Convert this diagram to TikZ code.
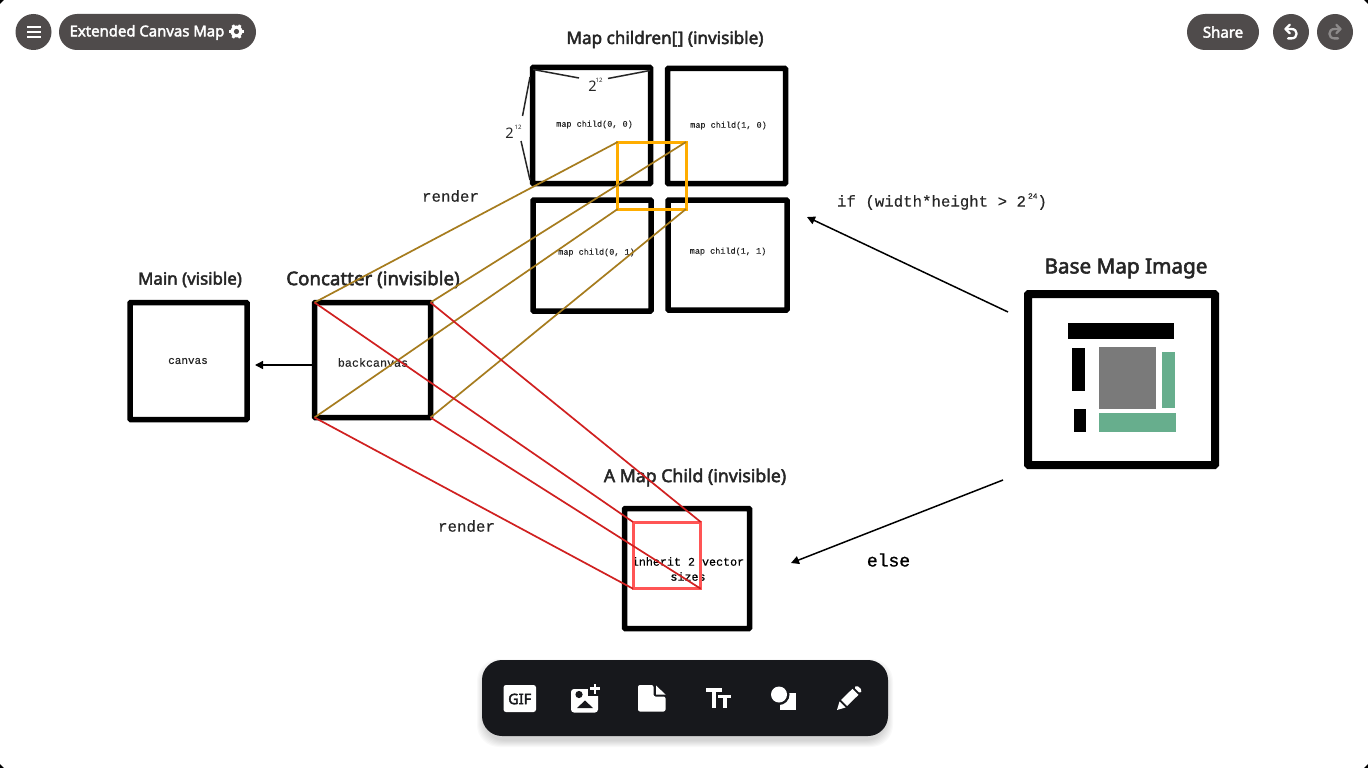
\documentclass[tikz,border=0pt]{standalone}
\usepackage{fontspec}
\setmainfont{Noto Sans}
\newfontfamily\headf[FakeBold=2.6]{Noto Sans}
\newfontfamily\monof[FakeBold=0.25]{Liberation Mono}
\newfontfamily\monob[FakeBold=1.1]{Liberation Mono}
\newcommand{\hd}[2]{{\headf\fontsize{#1}{#1}\selectfont #2}}
\newcommand{\mo}[2]{{\monof\fontsize{#1}{#1}\selectfont #2}}
\definecolor{pill}{HTML}{4F4B4B}
\definecolor{bar}{HTML}{17181C}
\definecolor{brownl}{HTML}{A67C1E}
\definecolor{redl}{HTML}{D02020}
\definecolor{orangeb}{HTML}{FFAD00}
\definecolor{redb}{HTML}{FF5555}
\definecolor{greenb}{HTML}{67AE8D}
\usetikzlibrary{arrows.meta}
\tikzset{
 box/.style={draw=black,line width=5.5pt,inner sep=0pt,outer sep=0pt,rounded corners=0.8pt},
 btn/.style={circle,fill=pill,minimum size=36pt,inner sep=0pt},
 pillb/.style={fill=pill,rounded corners=18pt},
 brownline/.style={draw=brownl,line width=1.7pt},
 redline/.style={draw=redl,line width=1.7pt},
 arrowl/.style={draw=black,line width=1.5pt,-{Triangle[length=8pt,width=8pt]}},
 dimline/.style={draw=black!85,line width=1.5pt},
 lbl/.style={inner sep=0pt,outer sep=0pt,text=black!85,align=center},
 icon/.style={fill=white,draw=none},
 cut/.style={fill=bar,draw=none},
 arrowicon/.style={line width=2.3pt,line cap=round,line join=round},
}
\begin{document}
\begin{tikzpicture}[x=1pt,y=-1pt]
\useasboundingbox (0,0) rectangle (1368,768);
\fill[white] (0,0) rectangle (1368,768);
% window corners
\fill[black] (0,0) -- (4,0) -- (0,4) -- cycle;
\fill[black] (1368,0) -- (1364,0) -- (1368,4) -- cycle;
\fill[black] (0,768) -- (4,768) -- (0,764) -- cycle;
\fill[black] (1368,768) -- (1364,768) -- (1368,764) -- cycle;
% top-left controls
\node[btn] (menu) at (33.5,32) {};
\foreach \yy in {27,32,37}{\draw[white,line width=1.2pt] (27,\yy)--(40.5,\yy);}
\fill[pillb] (59,14) rectangle (256,50);
\node[lbl,text=white] (title) at (147,32.5) {\hd{14.9}{Extended Canvas Map}};
\foreach \a in {0,60,...,300}{\draw[white,line width=2.8pt] (236.5,31.5)--++(\a:7.4);}
\fill[white] (236.5,31.5) circle (6);
\fill[pill] (236.5,31.5) circle (2.6);
% top-right controls
\fill[pillb] (1187,14) rectangle (1259,50);
\node[lbl,text=white] (share) at (1223,32) {\hd{15}{Share}};
\node[btn] (undo) at (1291,32) {};
\draw[white,arrowicon] (1285.5,29) -- (1291.5,29) .. controls (1298.3,29) and (1298.3,38.4) .. (1291.5,38.4) -- (1288,38.4);
\draw[white,arrowicon] (1289.7,24.8) -- (1285.5,29) -- (1289.7,33.2);
\node[btn] (redo) at (1335,32) {};
\draw[white!35!pill,arrowicon] (1340.5,29) -- (1334.5,29) .. controls (1327.7,29) and (1327.7,38.4) .. (1334.5,38.4) -- (1338,38.4);
\draw[white!35!pill,arrowicon] (1336.3,24.8) -- (1340.5,29) -- (1336.3,33.2);
% headings
\node[lbl] (h1) at (665,39.5) {\hd{17.1}{Map children[\kern0.6pt] (invisible)}};
\node[lbl] (h2) at (190,279.5) {\hd{16.9}{Main (visible)}};
\node[lbl] (h3) at (373,279.5) {\hd{18.7}{Concatter (invisible)}};
\node[lbl] (h4) at (695,477.5) {\hd{17.7}{A Map Child (invisible)}};
\node[lbl] (h5) at (1126,268.5) {\hd{20.7}{Base Map Image}};
% boxes
\node[box,minimum width=117pt,minimum height=117pt] (main) at (188.5,361) {};
\node[box,minimum width=116pt,minimum height=115pt] (conc) at (372.5,360) {};
\node[box,minimum width=118pt,minimum height=116pt] (m00) at (591.5,125.5) {};
\node[box,minimum width=118pt,minimum height=115pt] (m10) at (726.5,126) {};
\node[box,minimum width=118pt,minimum height=111pt] (m01) at (592,255.5) {};
\node[box,minimum width=119pt,minimum height=110pt] (m11) at (727.5,255) {};
\node[box,minimum width=125pt,minimum height=120pt] (child) at (687,568.5) {};
\node[box,line width=8pt,minimum width=187pt,minimum height=171pt] (base) at (1121.5,379.5) {};
% box labels
\node[lbl] (lcanvas) at (188,361) {\mo{11}{canvas}};
\node[lbl] (lback) at (373,362.5) {\mo{11.7}{backcanvas}};
\node[lbl] (l00) at (594.5,124.5) {\mo{8.5}{map child(0, 0)}};
\node[lbl] (l10) at (728.5,125.5) {\mo{8.5}{map child(1, 0)}};
\node[lbl] (l01) at (596.5,252.5) {\mo{8.5}{map child(0, 1)}};
\node[lbl] (l11) at (728,251.5) {\mo{8.5}{map child(1, 1)}};
\node[lbl,text=black,font=\monof\fontsize{11.7}{15}\selectfont] (lchild) at (688,569) {inherit 2 vector\\sizes};
% base map image contents
\fill[black] (1067.7,323) rectangle (1174.3,339.3);
\fill[black] (1072,348) rectangle (1085.3,391);
\fill[black] (1073.5,409) rectangle (1086,432);
\fill[black!52] (1099,346.5) rectangle (1156,408.5);
\fill[greenb] (1162,352) rectangle (1175,408);
\fill[greenb] (1099,413) rectangle (1175.5,432);
% highlight rectangles
\node[draw=orangeb,line width=3pt,inner sep=0pt,outer sep=0pt,minimum width=68.3pt,minimum height=67pt] (orect) at (651.85,175.5) {};
\node[draw=redb,line width=3pt,inner sep=0pt,outer sep=0pt,minimum width=67.7pt,minimum height=66.7pt] (rrect) at (666.85,555.35) {};
% projection lines
\draw[brownline] (conc.north west) -- (orect.north west);
\draw[brownline] (conc.north east) -- (orect.north east);
\draw[brownline] (conc.south west) -- (orect.south west);
\draw[brownline] (conc.south east) -- (orect.south east);
\draw[redline] (conc.north west) -- (rrect.north west);
\draw[redline] (conc.north east) -- (rrect.north east);
\draw[redline] (conc.south west) -- (rrect.south west);
\draw[redline] (conc.south east) -- (rrect.south east);
% arrows
\coordinate (a1e) at (255,365);
\coordinate (a1s) at (312,365);
\draw[arrowl] (a1s) -- (a1e);
\coordinate (a2s) at (1008,312);
\coordinate (a2e) at (807,217);
\draw[arrowl] (a2s) -- (a2e);
\coordinate (a3s) at (1003,480);
\coordinate (a3e) at (791,563);
\draw[arrowl] (a3s) -- (a3e);
% dimensions
\coordinate (d1) at (533,69.5);
\coordinate (d2) at (579,78);
\coordinate (d3) at (608,78.5);
\coordinate (d4) at (650,70.5);
\coordinate (d5) at (530,77);
\coordinate (d6) at (522.5,116);
\coordinate (d7) at (521,141);
\coordinate (d8) at (530,180);
\draw[dimline] (d1)--(d2);
\draw[dimline] (d3)--(d4);
\draw[dimline] (d5)--(d6);
\draw[dimline] (d7)--(d8);
\node[lbl] (dt) at (592.5,86) {\fontsize{14.5}{16}\selectfont 2};
\node[lbl] (dts) at (599,80) {\fontsize{6}{6}\selectfont 12};
\node[lbl] (dl) at (509.5,133) {\fontsize{14.5}{16}\selectfont 2};
\node[lbl] (dls) at (518,127) {\fontsize{6}{6}\selectfont 12};
% free labels
\node[lbl] (r1) at (450.5,196) {\mo{15.8}{render}};
\node[lbl] (r2) at (466.5,526) {\mo{15.8}{render}};
\node[lbl,text=black] (els) at (888.5,560) {{\monob\fontsize{18}{18}\selectfont else}};
\node[lbl,anchor=west] (cond) at (837,202.5) {\mo{15.75}{if (width*height > 2}};
\node[lbl,anchor=west] (conds) at (1028,196) {\mo{8}{24}};
\node[lbl,anchor=west] (condp) at (1037.5,202.5) {\mo{15.75}{)}};
% toolbar
\foreach \k in {1,...,7}{\fill[black,opacity=0.025,rounded corners=22pt] (484-\k,666-\k) rectangle (886+\k,740+\k);}
\fill[bar,rounded corners=20pt] (482,660) rectangle (888,736);
% GIF
\fill[icon,rounded corners=2.5pt] (503.5,685) rectangle (536,712);
\node[lbl,text=bar] (gif) at (519.7,699) {\hd{14.5}{GIF}};
% image
\fill[icon,rounded corners=3pt] (571,689) rectangle (598,712.5);
\fill[cut] (588,684) rectangle (600,696);
\fill[icon] (593.5,683.5) rectangle (596,693.5);
\fill[icon] (590,687.3) rectangle (600,689.8);
\fill[cut] (579,694.5) circle (3.6);
\fill[cut] (577,708) -- (585,700.5) -- (593,708) -- cycle;
% file
\fill[icon,rounded corners=2pt] (638,685) -- (653.5,685) -- (653.5,696.5) -- (665.5,696.5) -- (665.5,711.5) -- (638,711.5) -- cycle;
\fill[icon] (656,685.5) -- (665.5,694.5) -- (656,694.5) -- cycle;
% Tt
\fill[icon] (705.7,688) rectangle (722,692);
\fill[icon] (711.7,688) rectangle (716,708);
\fill[icon] (718,694.5) rectangle (731,698);
\fill[icon] (722.5,694.5) rectangle (726.5,708);
% shapes
\fill[icon] (780,693) rectangle (796,710);
\fill[cut] (779,694.5) circle (10.5);
\fill[icon] (779,694.5) circle (8);
% pencil
\fill[icon] (837,710) -- (839.5,701.5) -- (845.5,707.5) -- cycle;
\fill[icon] (841,700) -- (852.5,688.8) -- (858.5,694.8) -- (847,706) -- cycle;
\fill[icon,rounded corners=1.5pt] (854,687.3) -- (857,685.5) -- (862,690) -- (860,693.5) -- cycle;
\end{tikzpicture}
\end{document}
